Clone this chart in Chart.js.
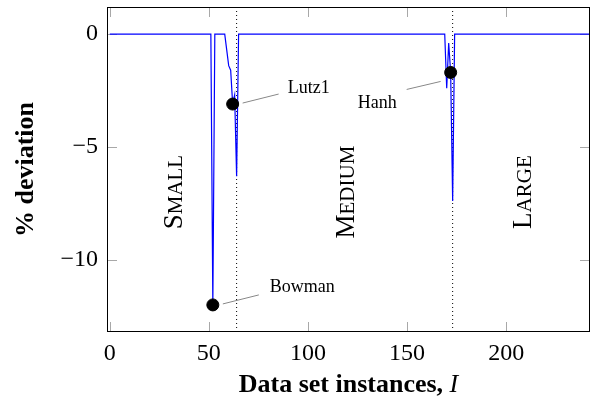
<!DOCTYPE html>
<html>
<head>
<meta charset="utf-8">
<script src="https://cdn.jsdelivr.net/npm/chart.js@4"></script>
<style>
  html, body { margin: 0; padding: 0; background: #fff; }
</style>
</head>
<body>
<canvas id="grafico" width="597" height="403"></canvas>
<script>
// Dados
const instancias = [0, 51, 52, 53, 58, 59, 60, 61, 62, 63, 64, 65, 169, 170, 171, 172, 173, 174, 242];
const desvio     = [0, 0, -12, 0, 0, -0.7, -1.4, -1.6, -3.1, -2.7, -6.3, 0, 0, -2.4, -0.4, -1.7, -7.4, 0, 0];

const nomes   = ['Bowman', 'Lutz1', 'Hanh'];
const nomesX  = [52, 62, 172];
const nomesY  = [-12, -3.1, -1.7];

const limites = [64, 173];             // separadores dos grupos
const grupos  = ['Small', 'Medium', 'Large'];
const gruposX = [32, 118.5, 207.8];

const marcasX = [0, 50, 100, 150, 200];
const marcasY = [-10, -5, 0];

const xMin = -1.4, xMax = 242.3;
const yMin = -13.2, yMax = 1.2;

const serif = '"Liberation Serif", "Times New Roman", serif';
const menos = v => v < 0 ? '\u2212' + Math.abs(v) : String(v);

// -------------------------------------------------------
// Anotacoes, caixa, marcas internas e titulos
const extras = {
  id: 'extras',
  beforeDatasetsDraw(chart) {
    const c = chart.ctx, a = chart.chartArea;
    const sx = chart.scales.x, sy = chart.scales.y;
    c.save();
    c.strokeStyle = '#a8a8a8';
    c.lineWidth = 1;
    c.beginPath();
    marcasX.forEach(v => {
      const p = Math.round(sx.getPixelForValue(v)) + 0.5;
      c.moveTo(p, a.bottom); c.lineTo(p, a.bottom - 10);
      c.moveTo(p, a.top); c.lineTo(p, a.top + 10);
    });
    marcasY.forEach(v => {
      const p = Math.round(sy.getPixelForValue(v)) + 0.5;
      c.moveTo(a.left, p); c.lineTo(a.left + 10, p);
      c.moveTo(a.right, p); c.lineTo(a.right - 10, p);
    });
    c.stroke();
    c.restore();
  },
  afterDatasetsDraw(chart) {
    const c = chart.ctx, a = chart.chartArea;
    const sx = chart.scales.x, sy = chart.scales.y;
    c.save();
    // caixa
    c.strokeStyle = '#000';
    c.lineWidth = 1;
    c.strokeRect(a.left + 0.5, a.top + 0.5, a.right - a.left - 1, a.bottom - a.top - 1);

    // pinos dos nomes
    const desl = [
      { l0: [10, -1], l1: [46, -10], t: [57, -13], al: 'left' },
      { l0: [10, -1], l1: [46, -10], t: [55, -11], al: 'left' },
      { l0: [-10, 9], l1: [-44, 17], t: [-54, 36], al: 'right' }
    ];
    c.font = '18px ' + serif;
    c.fillStyle = '#000';
    nomes.forEach((n, i) => {
      const px = sx.getPixelForValue(nomesX[i]), py = sy.getPixelForValue(nomesY[i]);
      const d = desl[i];
      c.strokeStyle = '#888';
      c.lineWidth = 1;
      c.beginPath();
      c.moveTo(px + d.l0[0], py + d.l0[1]);
      c.lineTo(px + d.l1[0], py + d.l1[1]);
      c.stroke();
      c.textAlign = d.al;
      c.textBaseline = 'alphabetic';
      c.fillText(n, px + d.t[0], py + d.t[1]);
    });

    // grupos em versalete, na vertical
    grupos.forEach((g, i) => {
      const px = sx.getPixelForValue(gruposX[i]), py = sy.getPixelForValue(-7);
      const ini = g[0], resto = g.slice(1).toUpperCase();
      c.font = '27px ' + serif;
      const w1 = c.measureText(ini).width;
      c.font = '21px ' + serif;
      const w2 = c.measureText(resto).width;
      c.save();
      c.translate(px, py);
      c.rotate(-Math.PI / 2);
      c.textAlign = 'left';
      c.textBaseline = 'alphabetic';
      const x0 = -(w1 + w2) / 2;
      c.font = '27px ' + serif;
      c.fillText(ini, x0, 9);
      c.font = '21px ' + serif;
      c.fillText(resto, x0 + w1, 9);
      c.restore();
    });

    // titulo eixo y
    c.save();
    c.translate(33, (a.top + a.bottom) / 2);
    c.rotate(-Math.PI / 2);
    c.font = 'bold 26px ' + serif;
    c.textAlign = 'center';
    c.textBaseline = 'alphabetic';
    c.fillText('% deviation', 0, 0);
    c.restore();

    // titulo eixo x
    const t1 = 'Data set instances, ', t2 = 'I';
    c.font = 'bold 26px ' + serif;
    const w1 = c.measureText(t1).width;
    c.font = 'italic 26px ' + serif;
    const w2 = c.measureText(t2).width;
    const cx = (a.left + a.right) / 2 - (w1 + w2) / 2;
    c.textAlign = 'left';
    c.textBaseline = 'alphabetic';
    c.font = 'bold 26px ' + serif;
    c.fillText(t1, cx, 392);
    c.font = 'italic 26px ' + serif;
    c.fillText(t2, cx + w1, 392);
    c.restore();
  }
};

// -------------------------------------------------------
// Grafico
const serie  = instancias.map((x, i) => ({ x: x, y: desvio[i] }));
const pontos = nomesX.map((x, i) => ({ x: x, y: nomesY[i] }));
const separadores = limites.map(x => ({
  type: 'line',
  data: [{ x: x, y: yMin }, { x: x, y: yMax }],
  borderColor: '#000',
  borderWidth: 1,
  borderDash: [1, 3],
  pointRadius: 0,
  order: 3
}));

const semFolga = s => { s.paddingTop = 0; s.paddingBottom = 0; s.paddingLeft = 0; s.paddingRight = 0; };

const ctx = document.getElementById('grafico').getContext('2d');
const grafico = new Chart(ctx, {
  type: 'line',
  data: {
    datasets: [
      {
        data: serie,
        borderColor: '#0000ff',
        borderWidth: 1.2,
        pointRadius: 0,
        tension: 0,
        order: 2
      },
      {
        type: 'scatter',
        data: pontos,
        pointRadius: 6,
        backgroundColor: '#000',
        borderColor: '#000',
        order: 1
      },
      ...separadores
    ]
  },
  options: {
    responsive: false,
    animation: false,
    devicePixelRatio: 1,
    layout: { padding: { top: 5, right: 6, left: 0, bottom: 0 } },
    plugins: { legend: { display: false }, tooltip: { enabled: false } },
    scales: {
      x: {
        type: 'linear',
        min: xMin, max: xMax,
        grid: { display: false, drawTicks: false },
        border: { display: false },
        afterBuildTicks: s => { s.ticks = marcasX.map(v => ({ value: v })); },
        afterFit: s => { s.height = 71; semFolga(s); },
        ticks: {
          font: { family: serif, size: 24 },
          color: '#000',
          padding: 7,
          maxRotation: 0,
          autoSkip: false,
          callback: v => menos(v)
        }
      },
      y: {
        type: 'linear',
        min: yMin, max: yMax,
        grid: { display: false, drawTicks: false },
        border: { display: false },
        afterBuildTicks: s => { s.ticks = marcasY.map(v => ({ value: v })); },
        afterFit: s => { s.width = 107; semFolga(s); },
        ticks: {
          font: { family: serif, size: 24 },
          color: '#000',
          padding: 9,
          autoSkip: false,
          callback: v => menos(v)
        }
      }
    }
  },
  plugins: [extras]
});
</script>
</body>
</html>
